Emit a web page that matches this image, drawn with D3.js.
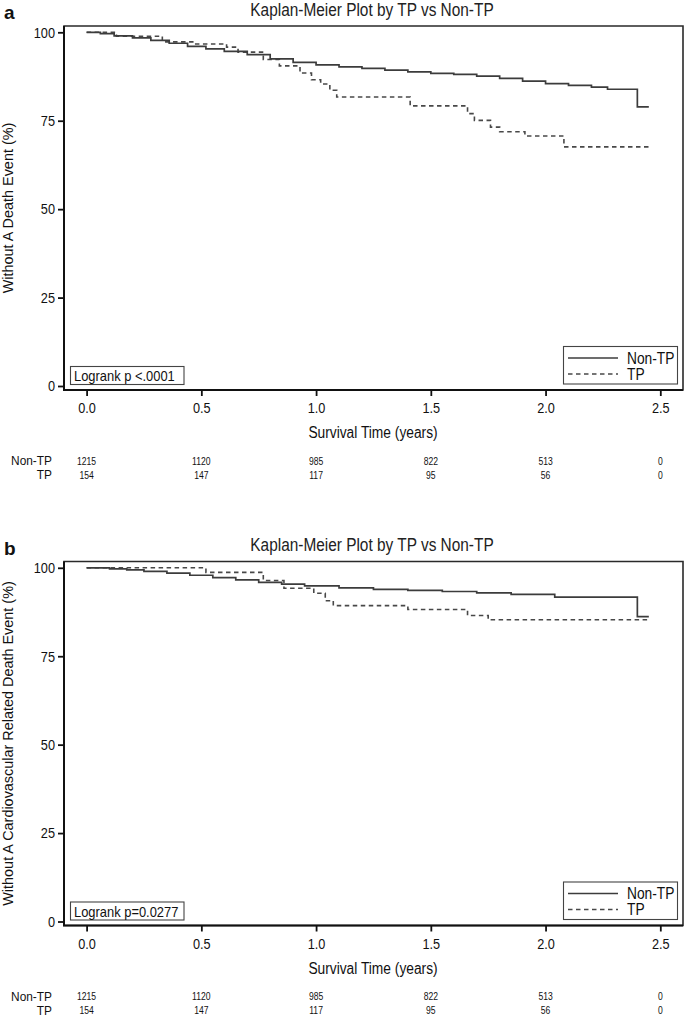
<!DOCTYPE html>
<html><head><meta charset="utf-8">
<script src="https://cdn.jsdelivr.net/npm/d3@7"></script>
<style>
body{margin:0;background:#fff;}
svg{display:block;}
text{font-family:"Liberation Sans",Arial,sans-serif;fill:#111;}
</style></head>
<body><svg id="c" width="685" height="1018"></svg>
<script>
// ---- data ----
const panelLetters = ["a", "b"];
const chartTitle = "Kaplan-Meier Plot by TP vs Non-TP";
const yLabels = ["Without A Death Event (%)", "Without A Cardiovascular Related Death Event (%)"];
const xLabel = "Survival Time (years)";
const logrankTexts = ["Logrank p <.0001", "Logrank p=0.0277"];
const groups = ["Non-TP", "TP"];
const xTicks = [0, 0.5, 1.0, 1.5, 2.0, 2.5];
const yTicks = [0, 25, 50, 75, 100];
const atRiskNonTP = [1215, 1120, 985, 822, 513, 0];
const atRiskTP = [154, 147, 117, 95, 56, 0];

// Panel a: overall death
const aNonTPTime = [0, 0.06, 0.12, 0.2, 0.28, 0.36, 0.44, 0.52, 0.6, 0.7, 0.8, 0.9, 1.0, 1.1, 1.2, 1.3, 1.4, 1.5, 1.6, 1.7, 1.8, 1.9, 2.0, 2.1, 2.2, 2.27, 2.4, 2.45];
const aNonTPSurv = [100, 99.6, 99.0, 98.4, 97.7, 96.9, 96.0, 95.3, 94.6, 93.7, 92.5, 91.5, 90.8, 90.2, 89.8, 89.3, 88.8, 88.4, 88.1, 87.6, 87.0, 86.2, 85.5, 85.0, 84.5, 83.9, 78.9, 78.9];
const aTPTime = [0, 0.13, 0.33, 0.47, 0.61, 0.66, 0.77, 0.84, 0.93, 0.98, 1.02, 1.06, 1.09, 1.41, 1.66, 1.69, 1.76, 1.80, 1.91, 2.08, 2.45];
const aTPSurv = [100, 98.9, 97.3, 96.7, 95.8, 94.4, 92.3, 90.5, 88.5, 86.6, 85.4, 83.6, 81.7, 79.2, 77.0, 75.1, 73.2, 71.9, 70.7, 67.6, 67.6];

// Panel b: cardiovascular death
const bNonTPTime = [0, 0.1, 0.175, 0.25, 0.35, 0.45, 0.55, 0.65, 0.75, 0.85, 0.95, 1.1, 1.25, 1.4, 1.55, 1.7, 1.85, 2.04, 2.40, 2.45];
const bNonTPSurv = [100, 99.7, 99.4, 99.0, 98.5, 97.9, 97.2, 96.6, 95.9, 95.4, 94.9, 94.3, 93.9, 93.6, 93.3, 92.9, 92.5, 91.7, 86.2, 86.2];
const bTPTime = [0, 0.52, 0.77, 0.86, 0.99, 1.04, 1.075, 1.40, 1.66, 1.75, 2.45];
const bTPSurv = [100, 98.7, 96.4, 94.2, 92.8, 90.7, 89.3, 88.2, 86.5, 85.3, 85.3];

const panels = [
  {nonTime: aNonTPTime, nonSurv: aNonTPSurv, tpTime: aTPTime, tpSurv: aTPSurv},
  {nonTime: bNonTPTime, nonSurv: bNonTPSurv, tpTime: bTPTime, tpSurv: bTPSurv}
];

// ---- drawing ----
const svg = d3.select("#c");
const offsets = [0, 535.5];
const frame = {l: 64, t: 26, r: 683, b: 390};
const x = d3.scaleLinear().domain([0, 2.5]).range([86.6, 660.3]);
const lineCol = "#3c3c3c";

// condense text horizontally (narrow look)
function condense(sel, ratio) {
  sel.each(function() {
    const w = this.getComputedTextLength();
    d3.select(this).attr("textLength", w * ratio).attr("lengthAdjust", "spacingAndGlyphs");
  });
}

panels.forEach((p, i) => {
  const g = svg.append("g").attr("transform", `translate(0,${offsets[i]})`);
  const y = d3.scaleLinear().domain([0, 100]).range([386, 32.3]);

  g.append("text").attr("x", 4).attr("y", 19)
    .style("font-weight", "bold").style("font-size", "19px").text(panelLetters[i]);
  g.append("text").attr("x", 372).attr("y", 15.5).attr("text-anchor", "middle")
    .style("font-size", "17.5px").style("fill", "#222").text(chartTitle).call(condense, 0.88);

  // frame
  g.append("path").attr("d", `M${frame.l},${frame.b}H${frame.r}V${frame.t}H${frame.l}Z`)
    .attr("fill", "none").attr("stroke", "#2a2a2a").attr("stroke-width", 1.6);
  g.append("path").attr("d", `M${frame.l},${frame.t}V${frame.b}H${frame.r}`)
    .attr("fill", "none").attr("stroke", "#111").attr("stroke-width", 2);

  // y axis
  const ya = d3.axisLeft(y).tickValues(yTicks).tickFormat(d3.format("d")).tickSize(6).tickPadding(3);
  const yg = g.append("g").attr("transform", `translate(${frame.l},0)`).call(ya);
  yg.select(".domain").remove();
  yg.selectAll(".tick line").attr("stroke", "#111").attr("stroke-width", 1.8);
  yg.selectAll(".tick text").style("font-size", "15px").style("font-family", null).attr("fill", "#111")
    .call(condense, 0.85);

  // x axis
  const xa = d3.axisBottom(x).tickValues(xTicks).tickFormat(d3.format(".1f")).tickSize(6).tickPadding(6);
  const xg = g.append("g").attr("transform", `translate(0,${frame.b})`).call(xa);
  xg.select(".domain").remove();
  xg.selectAll(".tick line").attr("stroke", "#111").attr("stroke-width", 1.8);
  xg.selectAll(".tick text").style("font-size", "15.5px").style("font-family", null).attr("fill", "#111")
    .call(condense, 0.82);

  g.append("text").attr("x", 373).attr("y", 438).attr("text-anchor", "middle")
    .style("font-size", "16px").text(xLabel).call(condense, 0.86);

  g.append("text").attr("transform", `translate(13,${(frame.t + frame.b) / 2}) rotate(-90)`)
    .attr("text-anchor", "middle").style("font-size", "15.5px").text(yLabels[i]).call(condense, 0.93);

  // curves
  const line = d3.line().x(d => x(d[0])).y(d => y(d[1])).curve(d3.curveStepAfter);
  const nonData = p.nonTime.map((t, k) => [t, p.nonSurv[k]]);
  const tpData = p.tpTime.map((t, k) => [t, p.tpSurv[k]]);
  g.append("path").datum(tpData).attr("d", line).attr("fill", "none")
    .attr("stroke", "#484848").attr("stroke-width", 1.6).attr("stroke-dasharray", "4.5,3.5");
  g.append("path").datum(nonData).attr("d", line).attr("fill", "none")
    .attr("stroke", lineCol).attr("stroke-width", 1.7);

  // logrank box
  g.append("rect").attr("x", 70.5).attr("y", 366.5).attr("width", 113.5).attr("height", 18)
    .attr("fill", "#fff").attr("stroke", "#444").attr("stroke-width", 1.1);
  g.append("text").attr("x", 74).attr("y", 381).style("font-size", "15px").text(logrankTexts[i])
    .call(condense, 0.86);

  // legend
  g.append("rect").attr("x", 563.5).attr("y", 346.5).attr("width", 114).attr("height", 37.5)
    .attr("fill", "#fff").attr("stroke", "#444").attr("stroke-width", 1.1);
  g.append("line").attr("x1", 568).attr("x2", 618).attr("y1", 358).attr("y2", 358)
    .attr("stroke", lineCol).attr("stroke-width", 1.7);
  g.append("line").attr("x1", 568).attr("x2", 618).attr("y1", 374).attr("y2", 374)
    .attr("stroke", "#484848").attr("stroke-width", 1.6).attr("stroke-dasharray", "4.5,3.5");
  g.append("text").attr("x", 627).attr("y", 363.5).style("font-size", "16px").text(groups[0]).call(condense, 0.86);
  g.append("text").attr("x", 627).attr("y", 379.5).style("font-size", "16px").text(groups[1]).call(condense, 0.86);

  // at-risk table
  const rows = [atRiskNonTP, atRiskTP];
  rows.forEach((vals, r) => {
    const yy = 465 + r * 14.2;
    g.append("text").attr("x", 52).attr("y", yy).attr("text-anchor", "end")
      .style("font-size", "12.5px").text(groups[r]).call(condense, 0.95);
    g.selectAll(null).data(vals).enter().append("text")
      .attr("x", (d, k) => x(xTicks[k])).attr("y", yy - 0.5).attr("text-anchor", "middle")
      .style("font-size", "11px")
      .text(d => d).call(condense, 0.78);
  });
});
</script></body></html>
